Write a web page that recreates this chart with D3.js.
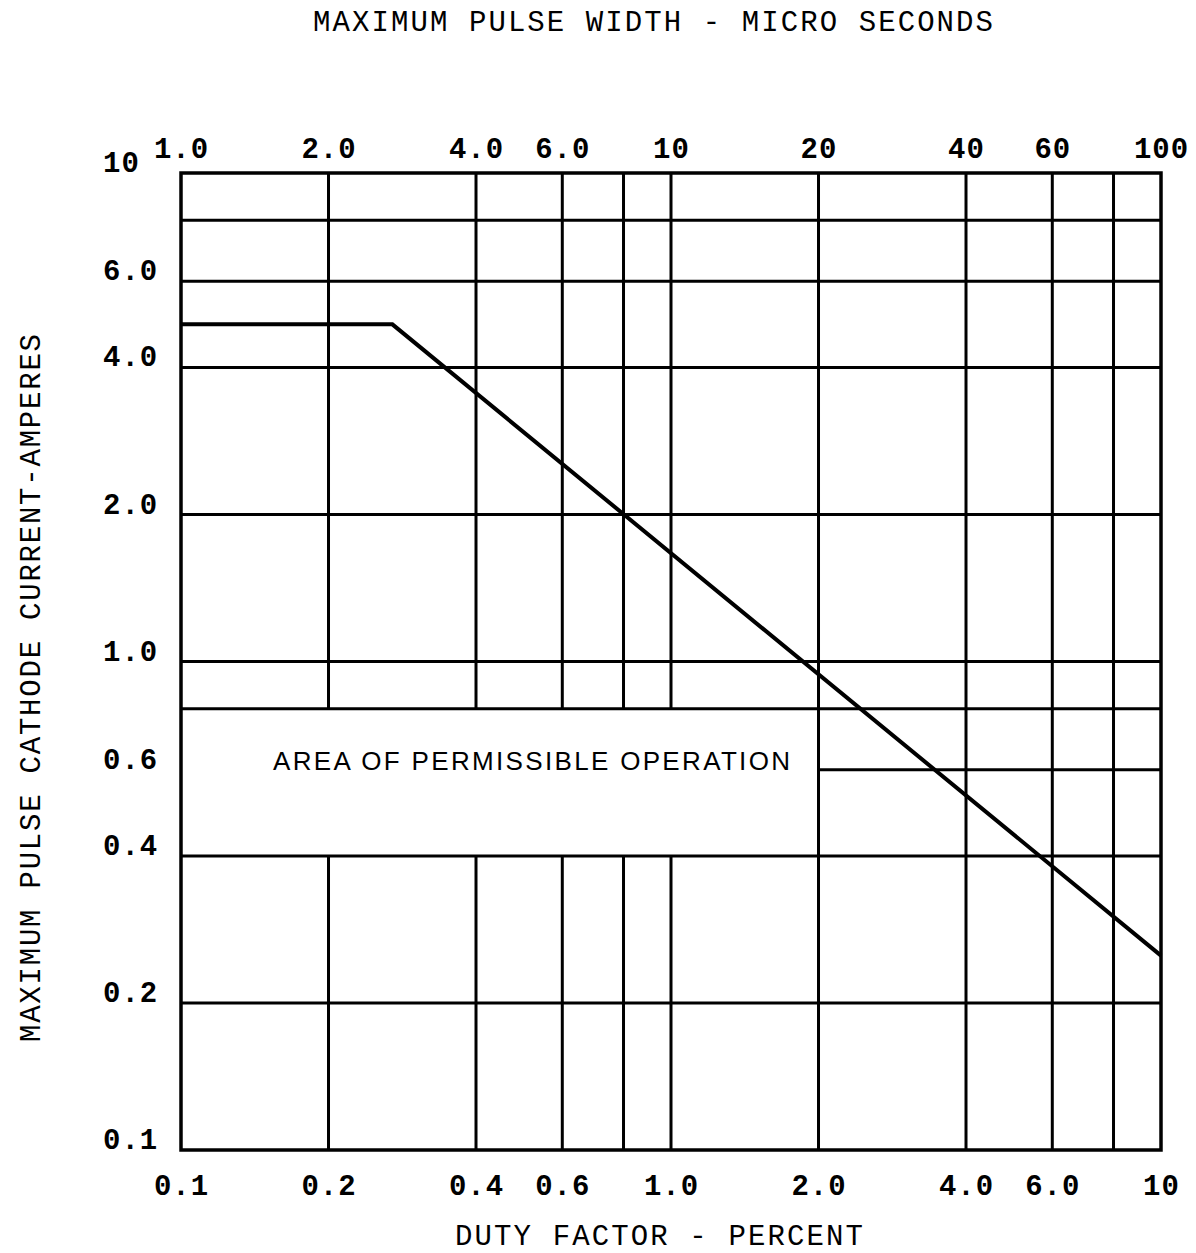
<!DOCTYPE html>
<html>
<head>
<meta charset="utf-8">
<script src="https://cdn.jsdelivr.net/npm/d3@7"></script>
<style>
  body { margin: 0; background: #fff; }
  svg { display: block; }
</style>
</head>
<body>
<svg></svg>
<script>
// duty factor (bottom), pulse width (top), cathode current (left)
let dutyTicks = [0.1, 0.2, 0.4, 0.6, 1, 2, 4, 6, 10]
let dutyLabels = ["0.1", "0.2", "0.4", "0.6", "1.0", "2.0", "4.0", "6.0", "10"]
let pulseTicks = [1, 2, 4, 6, 10, 20, 40, 60, 100]
let pulseLabels = ["1.0", "2.0", "4.0", "6.0", "10", "20", "40", "60", "100"]
let ampTicks = [0.1, 0.2, 0.4, 0.6, 1, 2, 4, 6, 10]
let ampLabels = ["0.1", "0.2", "0.4", "0.6", "1.0", "2.0", "4.0", "6.0", "10"]

let xGrid = [0.2, 0.4, 0.6, 0.8, 1, 2, 4, 6, 8]
let yGrid = [0.2, 0.4, 0.6, 0.8, 1, 2, 4, 6, 8]

// limit curve
let curveDuty = [0.1, 0.27, 10]
let curveAmps = [4.9, 4.9, 0.25]

let width = 1196
let height = 1253
let plotLeft = 181, plotRight = 1161, plotTop = 173, plotBottom = 1150

let mono = "'Liberation Mono', 'Courier New', monospace"

let svg = d3.select('svg')
  .attr('width', width)
  .attr('height', height)

let xScale = d3.scaleLog().domain([0.1, 10]).range([plotLeft, plotRight])
let xTopScale = d3.scaleLog().domain([1, 100]).range([plotLeft, plotRight])
let yScale = d3.scaleLog().domain([0.1, 10]).range([plotBottom, plotTop])

// grid lines, with the gap kept clear for the label
let vSegs = []
xGrid.forEach(v => {
  if (v < 2) {
    vSegs.push([v, 0.1, 0.4])
    vSegs.push([v, 0.8, 10])
  } else {
    vSegs.push([v, 0.1, 10])
  }
})
let hSegs = yGrid.map(v => v == 0.6 ? [v, 2, 10] : [v, 0.1, 10])

let grid = svg.append('g').attr('stroke', '#000').attr('stroke-width', 3)

grid.selectAll('line.v')
  .data(vSegs)
  .enter()
  .append('line')
  .attr('class', 'v')
  .attr('x1', d => xScale(d[0]))
  .attr('x2', d => xScale(d[0]))
  .attr('y1', d => yScale(d[1]))
  .attr('y2', d => yScale(d[2]))

grid.selectAll('line.h')
  .data(hSegs)
  .enter()
  .append('line')
  .attr('class', 'h')
  .attr('y1', d => yScale(d[0]))
  .attr('y2', d => yScale(d[0]))
  .attr('x1', d => xScale(d[1]))
  .attr('x2', d => xScale(d[2]))

svg.append('rect')
  .attr('x', plotLeft)
  .attr('y', plotTop)
  .attr('width', plotRight - plotLeft)
  .attr('height', plotBottom - plotTop)
  .attr('fill', 'none')
  .attr('stroke', '#000')
  .attr('stroke-width', 3.5)

// curve
let line = d3.line()
  .x(d => xScale(d[0]))
  .y(d => yScale(d[1]))

svg.append('path')
  .datum(curveDuty.map((d, i) => [d, curveAmps[i]]))
  .attr('d', line)
  .attr('fill', 'none')
  .attr('stroke', '#000')
  .attr('stroke-width', 4)

// axes (labels only)
let styleAxis = (g) => {
  g.select('.domain').remove()
  g.selectAll('.tick line').remove()
  g.selectAll('text')
    .attr('fill', '#000')
    .style('font-family', mono)
    .style('font-size', '29px')
    .style('font-weight', 'bold')
    .style('letter-spacing', '1px')
}

let xAxis = d3.axisBottom(xScale)
  .tickValues(dutyTicks)
  .tickFormat((d, i) => dutyLabels[i])
  .tickSize(0)
  .tickPadding(24)

svg.append('g')
  .attr('id', 'x-axis')
  .attr('transform', `translate(0, ${plotBottom})`)
  .call(xAxis)
  .call(styleAxis)

let xTopAxis = d3.axisTop(xTopScale)
  .tickValues(pulseTicks)
  .tickFormat((d, i) => pulseLabels[i])
  .tickSize(0)
  .tickPadding(15)

svg.append('g')
  .attr('id', 'x-top-axis')
  .attr('transform', `translate(0, ${plotTop})`)
  .call(xTopAxis)
  .call(styleAxis)

let yAxis = d3.axisLeft(yScale)
  .tickValues(ampTicks)
  .tickFormat((d, i) => ampLabels[i])
  .tickSize(0)

svg.append('g')
  .attr('id', 'y-axis')
  .attr('transform', `translate(${plotLeft}, 0)`)
  .call(yAxis)
  .call(styleAxis)
  .call(g => g.selectAll('text')
    .attr('text-anchor', 'start')
    .attr('x', 103 - plotLeft)
    .attr('dy', '-0.05em'))

// titles
svg.append('text')
  .attr('x', 653)
  .attr('y', 31)
  .attr('text-anchor', 'middle')
  .attr('textLength', 680)
  .attr('lengthAdjust', 'spacing')
  .style('font-family', mono)
  .style('font-size', '29px')
  .text('MAXIMUM PULSE WIDTH - MICRO SECONDS')

svg.append('text')
  .attr('x', 659)
  .attr('y', 1245)
  .attr('text-anchor', 'middle')
  .attr('textLength', 408)
  .attr('lengthAdjust', 'spacing')
  .style('font-family', mono)
  .style('font-size', '29px')
  .text('DUTY FACTOR - PERCENT')

svg.append('text')
  .attr('transform', 'translate(40, 688) rotate(-90)')
  .attr('text-anchor', 'middle')
  .attr('textLength', 708)
  .attr('lengthAdjust', 'spacing')
  .style('font-family', mono)
  .style('font-size', '29px')
  .text('MAXIMUM PULSE CATHODE CURRENT-AMPERES')

svg.append('text')
  .attr('x', 273)
  .attr('y', 770)
  .attr('textLength', 517)
  .attr('lengthAdjust', 'spacing')
  .style('font-family', "'Liberation Sans', Arial, sans-serif")
  .style('font-size', '26px')
  .text('AREA OF PERMISSIBLE OPERATION')
</script>
</body>
</html>
